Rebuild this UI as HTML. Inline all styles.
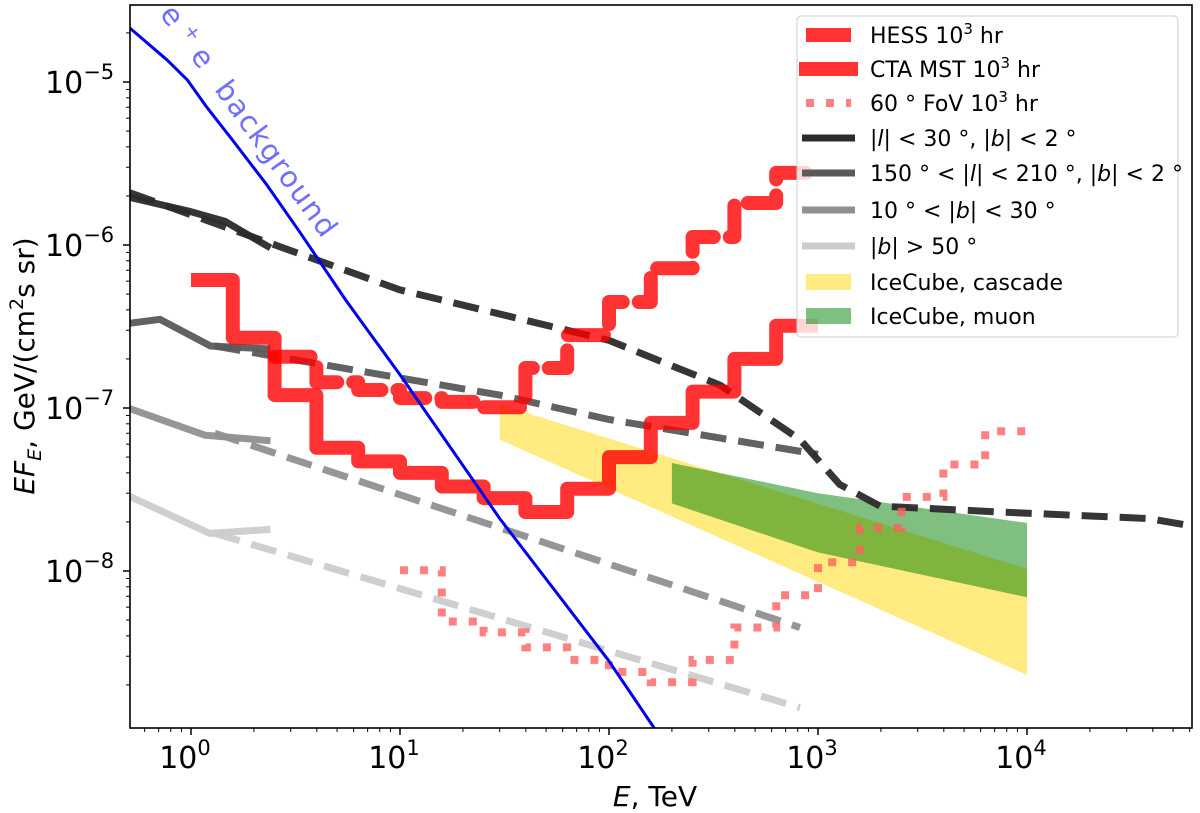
<!DOCTYPE html>
<html><head><meta charset="utf-8"><style>
html,body{margin:0;padding:0;background:#fff;}
svg{display:block;font-family:"DejaVu Sans","Liberation Sans",sans-serif;}
</style></head><body>
<svg id="chart" width="1200" height="813" viewBox="0 0 1200 813">
<defs><clipPath id="plotclip"><rect x="130" y="5" width="1062" height="723"/></clipPath></defs>
<g id="plot" clip-path="url(#plotclip)"></g>
<g id="axes"></g>
<g id="legend"></g>
</svg>
<script>
// ---- data ----
const cascadeE = [30, 10000];
const cascadeHi = [1.05e-7, 1.03e-8];
const cascadeLo = [6.4e-8, 2.3e-9];
const muonE = [200, 1000, 10000];
const muonHi = [4.6e-8, 3.0e-8, 1.97e-8];
const muonLo = [2.6e-8, 1.3e-8, 6.9e-9];
const bgE = [0.51, 0.77, 0.96, 1.19, 1.58, 2.31, 3.33, 5.5, 7, 10, 30, 100, 166];
const bgF = [2.14e-5, 1.36e-5, 1.03e-5, 7.0e-6, 4.4e-6, 2.33e-6, 1.19e-6, 4.6e-7, 3.0e-7, 1.6e-7, 2.1e-8, 2.8e-9, 1.07e-9];
const inner_modelE = [0.5, 1, 1.45, 2.4];
const inner_modelF = [1.97e-6, 1.6e-6, 1.4e-6, 9.6e-7];
const innerE = [0.51, 10, 100, 340, 820, 1270, 1980, 7400, 38000, 60000];
const innerF = [2.09e-6, 5.3e-7, 2.6e-7, 1.38e-7, 6.4e-8, 3.4e-8, 2.5e-8, 2.3e-8, 2.1e-8, 1.9e-8];
const anti_modelE = [0.5, 0.71, 1.24, 2.4];
const anti_modelF = [3.3e-7, 3.5e-7, 2.4e-7, 2.3e-7];
const antiE = [1.3, 30, 100, 1000];
const antiF = [2.4e-7, 1.2e-7, 8.5e-8, 5.2e-8];
const midb_modelE = [0.5, 1.17, 2.4];
const midb_modelF = [1.0e-7, 6.8e-8, 6.3e-8];
const midbE = [1.3, 820];
const midbF = [7e-8, 4.5e-9];
const highb_modelE = [0.5, 1.23, 2.4];
const highb_modelF = [2.9e-8, 1.7e-8, 1.8e-8];
const highbE = [1.3, 820];
const highbF = [1.7e-8, 1.45e-9];
const ctaLogEdges0 = 0, hessLogEdges0 = 0.4, fovLogEdges0 = 1.0, binW = 0.2;
const ctaF = [6.1e-7, 2.7e-7, 1.2e-7, 5.7e-8, 4.7e-8, 4.0e-8, 3.3e-8, 2.8e-8, 2.3e-8, 3.2e-8, 5.0e-8, 8.1e-8, 1.26e-7, 2.0e-7, 3.2e-7];
const hessF = [2.06e-7, 1.44e-7, 1.29e-7, 1.15e-7, 1.09e-7, 1.01e-7, 1.76e-7, 2.8e-7, 4.47e-7, 7.2e-7, 1.12e-6, 1.81e-6, 2.77e-6];
const fovF = [1.01e-8, 4.9e-9, 4.2e-9, 3.4e-9, 2.85e-9, 2.4e-9, 2.08e-9, 2.85e-9, 4.5e-9, 7.1e-9, 1.13e-8, 1.84e-8, 2.85e-8, 4.5e-8, 7.2e-8];
const xTickExp = [0, 1, 2, 3, 4];
const yTickExp = [-8, -7, -6, -5];
const legendLabels = ["HESS 10<tspan dy='-9' font-size='15'>3</tspan><tspan dy='9'> hr</tspan>","CTA MST 10<tspan dy='-9' font-size='15'>3</tspan><tspan dy='9'> hr</tspan>","60 °  FoV 10<tspan dy='-9' font-size='15'>3</tspan><tspan dy='9'> hr</tspan>","|<tspan font-style='italic'>l</tspan>| &lt; 30 °, |<tspan font-style='italic'>b</tspan>| &lt; 2 °","150 °  &lt; |<tspan font-style='italic'>l</tspan>| &lt; 210 °, |<tspan font-style='italic'>b</tspan>| &lt; 2 °","10 °  &lt; |<tspan font-style='italic'>b</tspan>| &lt; 30 °","|<tspan font-style='italic'>b</tspan>| &gt; 50 °","IceCube, cascade","IceCube, muon"];

// ---- scales ----
const X = v => 191 + 209 * Math.log10(v);
const Y = v => 82 - 163 * (Math.log10(v) + 5);
const NS = "http://www.w3.org/2000/svg";
const plot = document.getElementById('plot');
const axes = document.getElementById('axes');
const legend = document.getElementById('legend');
function mk(parent, tag, attrs) {
  const el = document.createElementNS(NS, tag);
  for (const k in attrs) el.setAttribute(k, attrs[k]);
  parent.appendChild(el);
  return el;
}
function linePath(E, F) { return E.map((e, i) => (i ? 'L' : 'M') + X(e).toFixed(1) + ',' + Y(F[i]).toFixed(1)).join(''); }
function stepPath(start, F) {
  let d = 'M' + X(Math.pow(10, start)).toFixed(1) + ',' + Y(F[0]).toFixed(1);
  F.forEach((f, i) => {
    if (i) d += 'V' + Y(f).toFixed(1);
    d += 'H' + X(Math.pow(10, start + (i + 1) * binW)).toFixed(1);
  });
  return d;
}
function band(E, hi, lo) {
  let d = E.map((e, i) => (i ? 'L' : 'M') + X(e).toFixed(1) + ',' + Y(hi[i]).toFixed(1)).join('');
  for (let i = E.length - 1; i >= 0; i--) d += 'L' + X(E[i]).toFixed(1) + ',' + Y(lo[i]).toFixed(1);
  return d + 'Z';
}

let el;
el = mk(plot, 'path', {d: band(cascadeE, cascadeHi, cascadeLo), fill: '#ffd700', 'fill-opacity': 0.5});


el = mk(plot, 'path', {d: band(muonE, muonHi, muonLo), fill: '#008000', 'fill-opacity': 0.5});



const lines = [
  ['highb-model', highb_modelE, highb_modelF, '#cccccc', null],
  ['highb-dashed', highbE, highbF, '#cccccc', '26 12'],
  ['midb-model', midb_modelE, midb_modelF, '#909090', null],
  ['midb-dashed', midbE, midbF, '#909090', '26 12'],
  ['anti-center-model', anti_modelE, anti_modelF, '#5a5a5a', null],
  ['anti-center-dashed', antiE, antiF, '#5a5a5a', '26 12'],
  ['inner-galaxy-model', inner_modelE, inner_modelF, '#2b2b2b', null],
  ['inner-galaxy-dashed', innerE, innerF, '#2b2b2b', '26 12']
];
lines.forEach(l => {
  el = mk(plot, 'path', {d: linePath(l[1], l[2]), fill: 'none', stroke: l[3], 'stroke-width': 7, 'stroke-opacity': 0.95, 'stroke-linejoin': 'round'});
  if (l[4]) el.setAttribute('stroke-dasharray', l[4]);
  
  
});

el = mk(plot, 'path', {d: stepPath(fovLogEdges0, fovF), fill: 'none', stroke: '#ff6060', 'stroke-opacity': 0.8, 'stroke-width': 8, 'stroke-dasharray': '8 12'});


el = mk(plot, 'path', {d: stepPath(hessLogEdges0, hessF), fill: 'none', stroke: '#ff0000', 'stroke-opacity': 0.8, 'stroke-width': 14, 'stroke-linecap': 'round', 'stroke-linejoin': 'round', 'stroke-dasharray': '36 16'});


el = mk(plot, 'path', {d: stepPath(ctaLogEdges0, ctaF), fill: 'none', stroke: '#ff0000', 'stroke-opacity': 0.8, 'stroke-width': 14, 'stroke-linejoin': 'round'});



el = mk(plot, 'path', {d: linePath(bgE, bgF), fill: 'none', stroke: '#0000ee', 'stroke-width': 3, 'stroke-linejoin': 'round'});


el = mk(plot, 'text', {x: 0, y: 0, transform: 'translate(159,14) rotate(54)', fill: '#6f6fff', 'font-size': 29, 'letter-spacing': 1.5});
el.innerHTML = 'e<tspan dy="-10" font-size="19"> + </tspan><tspan dy="10">e</tspan><tspan dx="22">background</tspan>';



el = mk(axes, 'rect', {x: 130, y: 5, width: 1062, height: 723, fill: 'none', stroke: '#000', 'stroke-width': 1.6});



for (let d = -1; d <= 4; d++) {
  for (let m = 1; m <= 9; m++) {
    const v = m * Math.pow(10, d);
    const px = X(v);
    if (px < 130 || px > 1192) continue;
    el = mk(axes, 'line', {x1: px, x2: px, y1: 728, y2: 728 + (m === 1 ? 7 : 4), stroke: '#000', 'stroke-width': m === 1 ? 1.5 : 1});
    
    
  }
}
xTickExp.forEach(e => {
  el = mk(axes, 'text', {x: X(Math.pow(10, e)) - 6, y: 768, 'text-anchor': 'middle', 'font-size': 30});
  el.innerHTML = '10<tspan dy="-13" font-size="21">' + e + '</tspan>';
  
  
});
for (let d = -9; d <= -5; d++) {
  for (let m = 1; m <= 9; m++) {
    const v = m * Math.pow(10, d);
    const py = Y(v);
    if (py < 5 || py > 728) continue;
    el = mk(axes, 'line', {x1: 130 - (m === 1 ? 7 : 4), x2: 130, y1: py, y2: py, stroke: '#000', 'stroke-width': m === 1 ? 1.5 : 1});
    
    
  }
}
yTickExp.forEach(e => {
  el = mk(axes, 'text', {x: 45, y: Y(Math.pow(10, e)) + 11, 'font-size': 30});
  el.innerHTML = '10<tspan dy="-14" font-size="21">−' + (-e) + '</tspan>';
  
  
});
el = mk(axes, 'text', {x: 655, y: 806, 'text-anchor': 'middle', 'font-size': 28});
el.innerHTML = '<tspan font-style="italic">E</tspan>, TeV';


el = mk(axes, 'text', {x: 0, y: 0, transform: 'translate(34,366) rotate(-90)', 'text-anchor': 'middle', 'font-size': 28});
el.innerHTML = '<tspan font-style="italic">EF<tspan dy="7" font-size="19">E</tspan></tspan><tspan dy="-7">, GeV/(cm</tspan><tspan dy="-11" font-size="19">2</tspan><tspan dy="11">s sr)</tspan>';



el = mk(legend, 'rect', {x: 797, y: 16, width: 381, height: 321, rx: 4, fill: '#fff', 'fill-opacity': 0.8, stroke: '#ccc', 'stroke-width': 1});


const rowY = [35, 69, 103, 138, 173, 210, 246, 282, 316];
const handles = [
  {stroke: '#ff0000', w: 14, x1: 806, x2: 851, op: 0.8},
  {stroke: '#ff0000', w: 14, x1: 799, x2: 858, op: 0.8},
  {stroke: '#ff6060', w: 8, x1: 806, x2: 851, op: 0.8, dash: '8 12'},
  {stroke: '#2b2b2b', w: 7, x1: 802, x2: 855, op: 1},
  {stroke: '#5a5a5a', w: 7, x1: 802, x2: 855, op: 1},
  {stroke: '#909090', w: 7, x1: 802, x2: 855, op: 1},
  {stroke: '#cccccc', w: 7, x1: 802, x2: 855, op: 1},
  {fill: '#ffd700'},
  {fill: '#008000'}
];
legendLabels.forEach((lab, i) => {
  const h = handles[i];
  if (h.fill) {
    el = mk(legend, 'rect', {x: 806, y: rowY[i] - 8, width: 45, height: 16, fill: h.fill, 'fill-opacity': 0.5});
  } else {
    el = mk(legend, 'line', {x1: h.x1, x2: h.x2, y1: rowY[i], y2: rowY[i], stroke: h.stroke, 'stroke-width': h.w, 'stroke-opacity': h.op});
    if (h.dash) el.setAttribute('stroke-dasharray', h.dash);
  }
  
  
  el = mk(legend, 'text', {x: 870, y: rowY[i] + 8, 'font-size': 22});
  el.innerHTML = lab;
  
  
});
</script>
</body></html>
